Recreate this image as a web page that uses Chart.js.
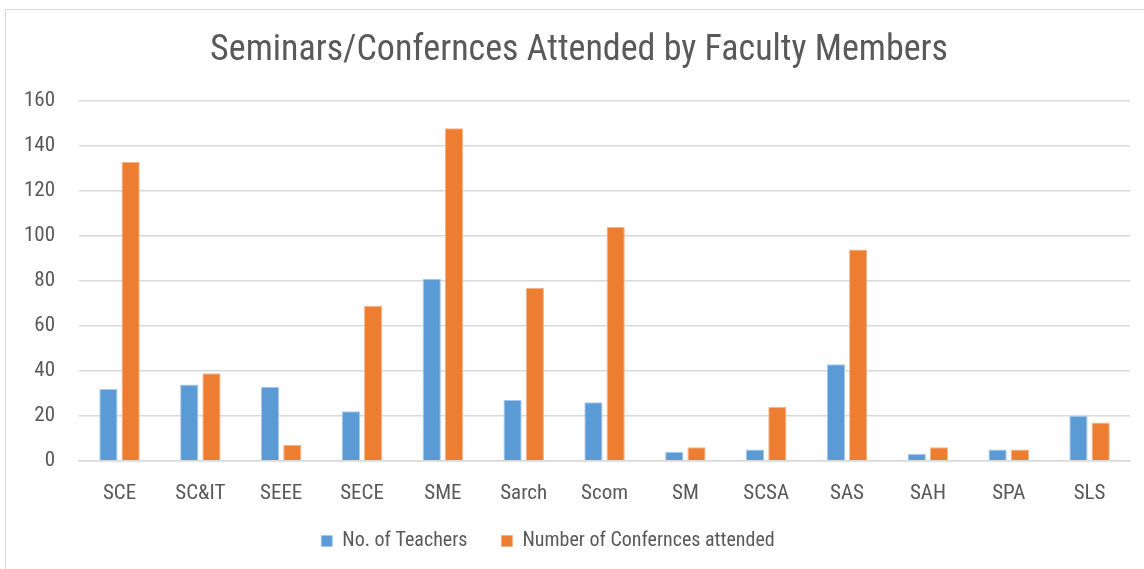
<!DOCTYPE html>
<html><head><meta charset="utf-8">
<script src="https://cdn.jsdelivr.net/npm/chart.js@4"></script>
<style>
html,body{margin:0;padding:0;background:#fff;}
#wrap{position:absolute;left:5px;top:9px;width:1150px;height:570px;border:1px solid #d9d9d9;box-sizing:border-box;}
canvas{position:absolute;left:0;top:0;}
</style></head><body>
<div id="wrap"></div>
<canvas id="c" width="1144" height="569"></canvas>
<script>
const categories = ["SCE","SC&IT","SEEE","SECE","SME","Sarch","Scom","SM","SCSA","SAS","SAH","SPA","SLS"];
const teachers = [32,34,33,22,81,27,26,4,5,43,3,5,20];
const conferences = [133,39,7,69,148,77,104,6,24,94,6,5,17];
const yTicks = [0,20,40,60,80,100,120,140,160];
const FONT = "'Liberation Sans Narrow','Roboto Condensed','Liberation Sans',sans-serif";
const shiftBoxes = {
  id:'shiftBoxes',
  afterLayout(chart){
    const lg = chart.legend;
    if (lg){ lg.top -= 21; lg.bottom -= 21; lg.left -= 17; lg.right -= 17; }
    const tb = chart.titleBlock;
    if (tb){ tb.left += 14; tb.right += 14; }
  }
};
new Chart(document.getElementById('c'), {
  type: 'bar',
  data: {
    labels: categories,
    datasets: [
      {label:'No. of Teachers', data: teachers, backgroundColor:'#5b9bd5', borderColor:'#a9c8ea', borderWidth:1, categoryPercentage:0.55, barPercentage:0.82},
      {label:'Number of Confernces attended', data: conferences, backgroundColor:'#ed7d31', borderColor:'#f4b48a', borderWidth:1, categoryPercentage:0.55, barPercentage:0.82}
    ]
  },
  plugins:[shiftBoxes],
  options: {
    responsive:false, animation:false,
    layout:{padding:{left:0,right:14,top:18,bottom:-13}},
    plugins:{
      title:{display:true,text:'Seminars/Confernces Attended by Faculty Members',color:'#595959',font:{family:FONT,size:36,weight:'normal'},padding:{top:11,bottom:29}},
      legend:{position:'bottom',labels:{color:'#595959',font:{family:FONT,size:20},boxWidth:11,boxHeight:11,padding:34}},
      tooltip:{enabled:false}
    },
    scales:{
      x:{grid:{display:false},border:{color:'#d9d9d9',width:1.5},ticks:{color:'#595959',font:{family:FONT,size:21},padding:12}},
      y:{min:0,max:160,afterBuildTicks:(ax)=>{ax.ticks=yTicks.map(v=>({value:v}));},
         grid:{color:'#d9d9d9',lineWidth:1.5,drawTicks:false},border:{display:false},
         ticks:{color:'#595959',font:{family:FONT,size:21},padding:24}}
    }
  }
});
</script>
</body></html>
